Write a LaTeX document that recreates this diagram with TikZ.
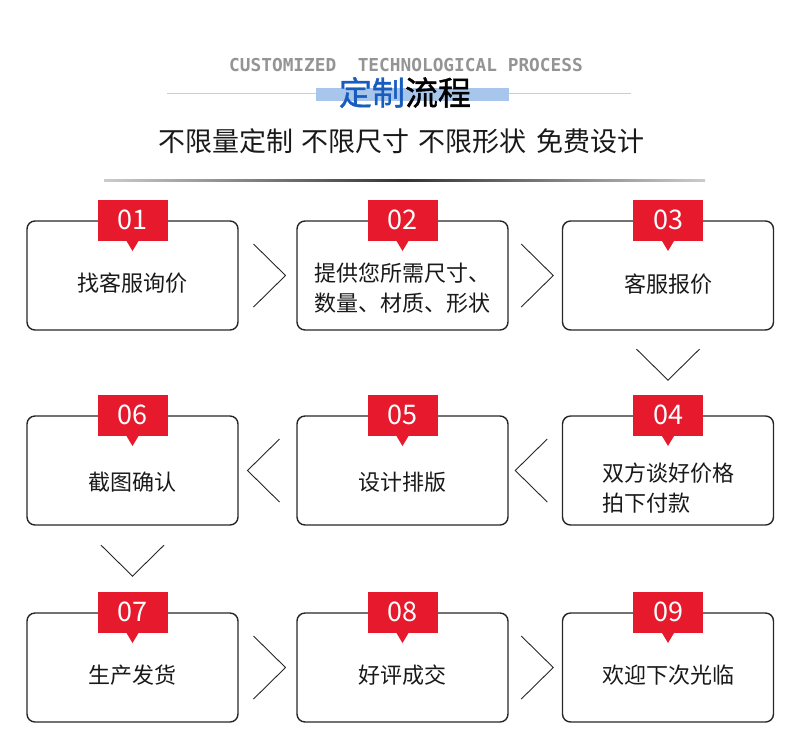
\documentclass[tikz,border=0pt]{standalone}
\usepackage{fontspec}
\usetikzlibrary{calc}
\newfontfamily\cjk{Noto Sans CJK SC}
\newfontfamily\cjkttl{Noto Sans CJK SC}[FakeBold=1.2]
\newfontfamily\hdmono{DejaVu Sans Mono}
\definecolor{tabR}{RGB}{230,25,45}
\definecolor{ttlB}{RGB}{24,92,190}
\definecolor{barB}{RGB}{168,198,235}
\definecolor{lnB}{RGB}{185,208,238}

\begin{document}
\begin{tikzpicture}[x=1pt,y=-1pt,
  box/.style={draw=black!85,line width=1.4pt,rounded corners=8pt,minimum width=211pt,minimum height=109pt,inner sep=0pt},
  tab/.style={fill=tabR,text=white,minimum width=70pt,minimum height=41pt,inner sep=0pt,font=\cjk\fontsize{27}{27}\selectfont},
  lbl/.style={font=\cjk\fontsize{22}{30}\selectfont,align=left,text=black!90},
  chev/.style={black!85,line width=0.9pt}]
\useasboundingbox (0,0) rectangle (800,732);
% header
\draw[lnB,line width=1pt] (167,93) -- (631,93);
\fill[barB] (316,88) rectangle (509,101);
\node[font=\hdmono\bfseries\fontsize{17.8}{18}\selectfont,text=black!42] (eng) at (406,65) {CUSTOMIZED\ \ TECHNOLOGICAL PROCESS};
\node[font=\cjkttl\fontsize{33}{33}\selectfont] (ttl) at (405,92.5) {\textcolor{ttlB}{定制}流程};
\node[font=\cjk\fontsize{27}{27}\selectfont,text=black!90] (sub) at (401,141.5) {不限量定制\hspace{9pt}不限尺寸\hspace{9pt}不限形状\hspace{9pt}免费设计};
\shade[left color=black!20,right color=black!20,middle color=black!80] (104,179) rectangle (705,181);
% boxes and number tabs
\foreach \n/\x/\y in {1/132.5/275.5,2/402.5/275.5,3/668/275.5,6/132.5/470.5,5/402.5/470.5,4/668/470.5,7/132.5/667.5,8/402.5/667.5,9/668/667.5}{
  \node[box] (b\n) at (\x,\y) {};
  \node[tab] (n\n) at (b\n.north) {0\n};
  \fill[tabR] ([xshift=-6pt]n\n.south) -- ([yshift=-10pt]n\n.south) -- ([xshift=6pt]n\n.south) -- cycle;
}
\node[lbl] (t1) at (132.5,283) {找客服询价};
\node[lbl] (t2) at (402.5,288) {提供您所需尺寸、\\数量、材质、形状};
\node[lbl] (t3) at (668,284) {客服报价};
\node[lbl] (t4) at (668,488) {双方谈好价格\\拍下付款};
\node[lbl] (t5) at (402.5,482) {设计排版};
\node[lbl] (t6) at (132.5,482) {截图确认};
\node[lbl] (t7) at (132.5,675) {生产发货};
\node[lbl] (t8) at (402.5,675) {好评成交};
\node[lbl] (t9) at (668,675) {欢迎下次光临};
% chevrons
\foreach \a/\b/\d/\o in {b1/b2/1/2,b2/b3/1/2,b6/b5/-1/-4,b5/b4/-1/-4,b7/b8/1/2,b8/b9/1/2}
  \draw[chev] ($(\a.east)!0.5!(\b.west)+(\o-16*\d,-31.5)$) -- ($(\a.east)!0.5!(\b.west)+(\o+16*\d,0)$) -- ($(\a.east)!0.5!(\b.west)+(\o-16*\d,31.5)$);
\draw[chev] ($(b3.south)!0.5!(n4.north)+(-31.5,-13.5)$) -- ++(31.5,31) -- ++(31.5,-31);
\draw[chev] ($(b6.south)!0.5!(n7.north)+(-31.5,-13.5)$) -- ++(31.5,31) -- ++(31.5,-31);
\end{tikzpicture}
\end{document}
